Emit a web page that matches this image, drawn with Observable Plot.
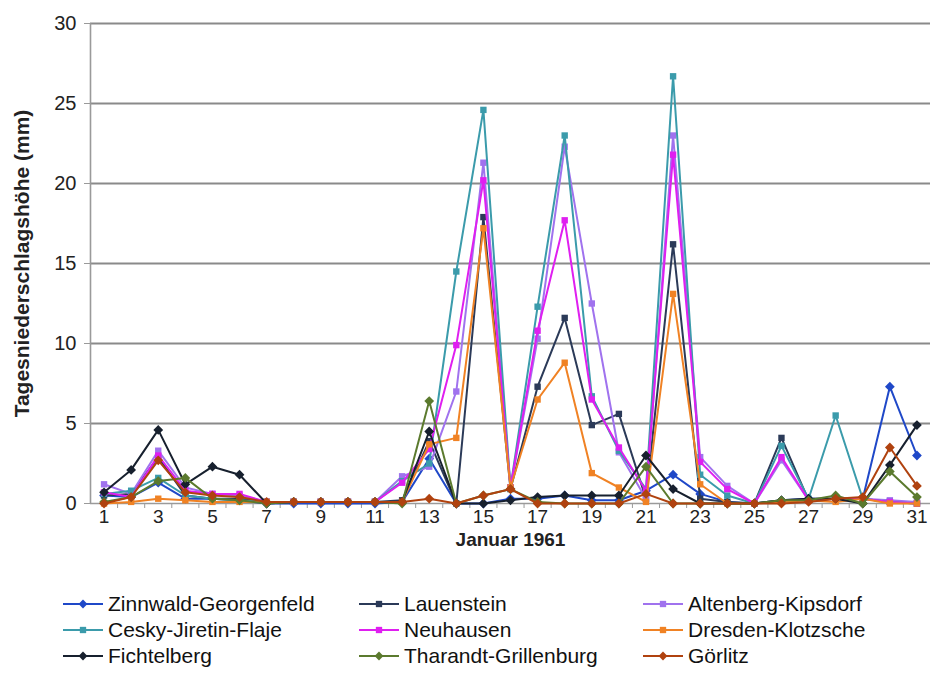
<!DOCTYPE html>
<html>
<head>
<meta charset="utf-8">
<script src="https://cdn.jsdelivr.net/npm/d3@7"></script>
<script src="https://cdn.jsdelivr.net/npm/@observablehq/plot@0.6"></script>
<style>
  body { margin: 0; background: #fff; font-family: "Liberation Sans", Arial, sans-serif; }
  #legend { display: grid; grid-template-columns: 296px 284px 250px; margin-left: 62px; margin-top: 33px; row-gap: 4px; }
  .item { display: flex; align-items: center; font-size: 21px; color: #111; height: 22px; white-space: nowrap; }
  .item svg { margin-right: 4px; }
</style>
</head>
<body>
<div id="chart"></div>
<div id="legend"></div>
<script>
const days = d3.range(1, 32);
const seriesNames = ["Zinnwald-Georgenfeld","Lauenstein","Altenberg-Kipsdorf","Cesky-Jiretin-Flaje","Neuhausen","Dresden-Klotzsche","Fichtelberg","Tharandt-Grillenburg","Görlitz"];
const seriesColors = ["#1f48c8","#2b3a58","#a072ee","#3b9bab","#df1ff0","#f08224","#17202e","#5b7a2e","#b0420f"];
const seriesSymbols = ["diamond2","square","square","square","square","square","diamond2","diamond2","diamond2"];

const zinnwald   = [0.5,0.4,1.3,0.3,0.3,0.2,0,0,0,0,0,0.1,2.8,0,0,0.3,0.3,0.5,0.2,0.2,0.8,1.8,0.6,0.1,0,0.2,0.3,0.3,0.3,7.3,3.0];
const lauenstein = [0.5,0.6,2.9,0.5,0.3,0.3,0.1,0.1,0.1,0.1,0.1,0.2,3.9,0,17.9,0.9,7.3,11.6,4.9,5.6,0.3,16.2,0.3,0.1,0,4.1,0.2,0.3,0.3,0.1,0];
const altenberg  = [1.2,0.6,3.3,1.0,0.6,0.5,0.1,0.1,0.1,0.1,0.1,1.7,2.3,7.0,21.3,1.0,10.3,22.3,12.5,3.2,0.3,23.0,2.9,1.1,0,2.7,0.2,0.3,0.3,0.2,0.1];
const cesky      = [0.6,0.8,1.6,0.5,0.3,0.2,0.1,0.1,0.1,0.1,0.1,1.4,2.5,14.5,24.6,1.0,12.3,23.0,6.7,3.3,0.9,26.7,1.8,0.5,0,3.6,0.3,5.5,0.3,0.1,0];
const neuhausen  = [0.7,0.4,3.0,0.8,0.6,0.6,0.1,0.1,0.1,0.1,0.1,1.3,3.4,9.9,20.2,1.0,10.8,17.7,6.5,3.5,0.8,21.8,2.6,0.9,0,2.9,0.2,0.3,0.3,0.1,0];
const dresden    = [0,0.1,0.3,0.2,0.1,0.1,0.1,0.1,0.1,0.1,0.1,0.1,3.7,4.1,17.2,1.0,6.5,8.8,1.9,1.0,0.1,13.1,1.2,0,0,0.1,0.2,0.1,0.3,0,0];
const fichtelberg= [0.7,2.1,4.6,1.2,2.3,1.8,0,0.1,0.1,0.1,0.1,0.1,4.5,0,0,0.2,0.4,0.5,0.5,0.5,3.0,0.9,0,0,0,0.2,0.3,0.3,0,2.4,4.9];
const tharandt   = [0.1,0.4,1.4,1.6,0.3,0.2,0,0.1,0.1,0.1,0.1,0,6.4,0,0.5,0.9,0.1,0,0,0,2.3,0,0,0,0,0.2,0.2,0.5,0,2.0,0.4];
const goerlitz   = [0,0.4,2.7,0.7,0.5,0.4,0.1,0.1,0.1,0.1,0.1,0.1,0.3,0,0.5,0.9,0,0,0,0,0.6,0,0,0,0,0,0.1,0.3,0.4,3.5,1.1];
const seriesValues = [zinnwald,lauenstein,altenberg,cesky,neuhausen,dresden,fichtelberg,tharandt,goerlitz];
const yTicks = [0,5,10,15,20,25,30];
const xTickLabels = d3.range(1, 32, 2);

const rows = [];
seriesNames.forEach((name, i) => {
  days.forEach((d, j) => rows.push({series: name, day: d, value: seriesValues[i][j]}));
});

const marks = [
  Plot.ruleY(yTicks.slice(1), {stroke: "#8a8a8a", strokeWidth: 1.8}),
  Plot.ruleY([0], {stroke: "#9a9a9a", strokeWidth: 1.6}),
  Plot.ruleX([0.5], {stroke: "#9a9a9a", strokeWidth: 1.6}),
  Plot.axisY({ticks: yTicks, tickSize: 6, tickPadding: 8, stroke: "#9a9a9a", fontSize: 20, fill: "#222",
    label: "Tagesniederschlagshöhe (mm)", labelAnchor: "center", labelArrow: "none", labelOffset: 76}),
  Plot.axisX({ticks: d3.range(1.5, 31.5, 1), tickSize: 5, text: null, label: null, stroke: "#9a9a9a"}),
  Plot.axisX({ticks: xTickLabels, tickSize: 0, tickPadding: 6, fontSize: 19, fill: "#222",
    label: "Januar 1961", labelAnchor: "center", labelArrow: "none", labelOffset: 42})
];
seriesNames.forEach((name, i) => {
  const data = rows.filter(r => r.series === name);
  marks.push(Plot.line(data, {x: "day", y: "value", stroke: seriesColors[i], strokeWidth: 2}));
  marks.push(Plot.dot(data, {x: "day", y: "value", fill: seriesColors[i], symbol: seriesSymbols[i], r: seriesSymbols[i] === "square" ? 3.6 : 4.4}));
});

const chart = Plot.plot({
  width: 930,
  height: 560,
  marginTop: 23,
  marginBottom: 57,
  marginLeft: 90,
  marginRight: 0,
  x: {domain: [0.5, 31.5]},
  y: {domain: [0, 30]},
  style: {fontFamily: "Liberation Sans, Arial, sans-serif", fontSize: "20px", color: "#222"},
  marks
});
document.getElementById("chart").appendChild(chart);

// make axis labels bold
d3.select(chart).selectAll("g[aria-label='y-axis label'] text")
  .attr("font-weight", "bold").attr("font-size", 21);
d3.select(chart).selectAll("g[aria-label='x-axis label'] text")
  .attr("font-weight", "bold").attr("font-size", 19);

// legend, filled row by row
const legend = d3.select("#legend");
seriesNames.forEach((name, i) => {
  const item = legend.append("div").attr("class", "item");
  const svg = item.append("svg").attr("width", 42).attr("height", 14);
  svg.append("line").attr("x1", 1).attr("x2", 41).attr("y1", 7).attr("y2", 7)
    .attr("stroke", seriesColors[i]).attr("stroke-width", 2);
  const sym = seriesSymbols[i] === "square" ? d3.symbolSquare : d3.symbolDiamond2;
  svg.append("path").attr("d", d3.symbol(sym, seriesSymbols[i] === "square" ? 40 : 50)())
    .attr("transform", "translate(21,7)").attr("fill", seriesColors[i]);
  item.append("span").text(name);
});
</script>
</body>
</html>
